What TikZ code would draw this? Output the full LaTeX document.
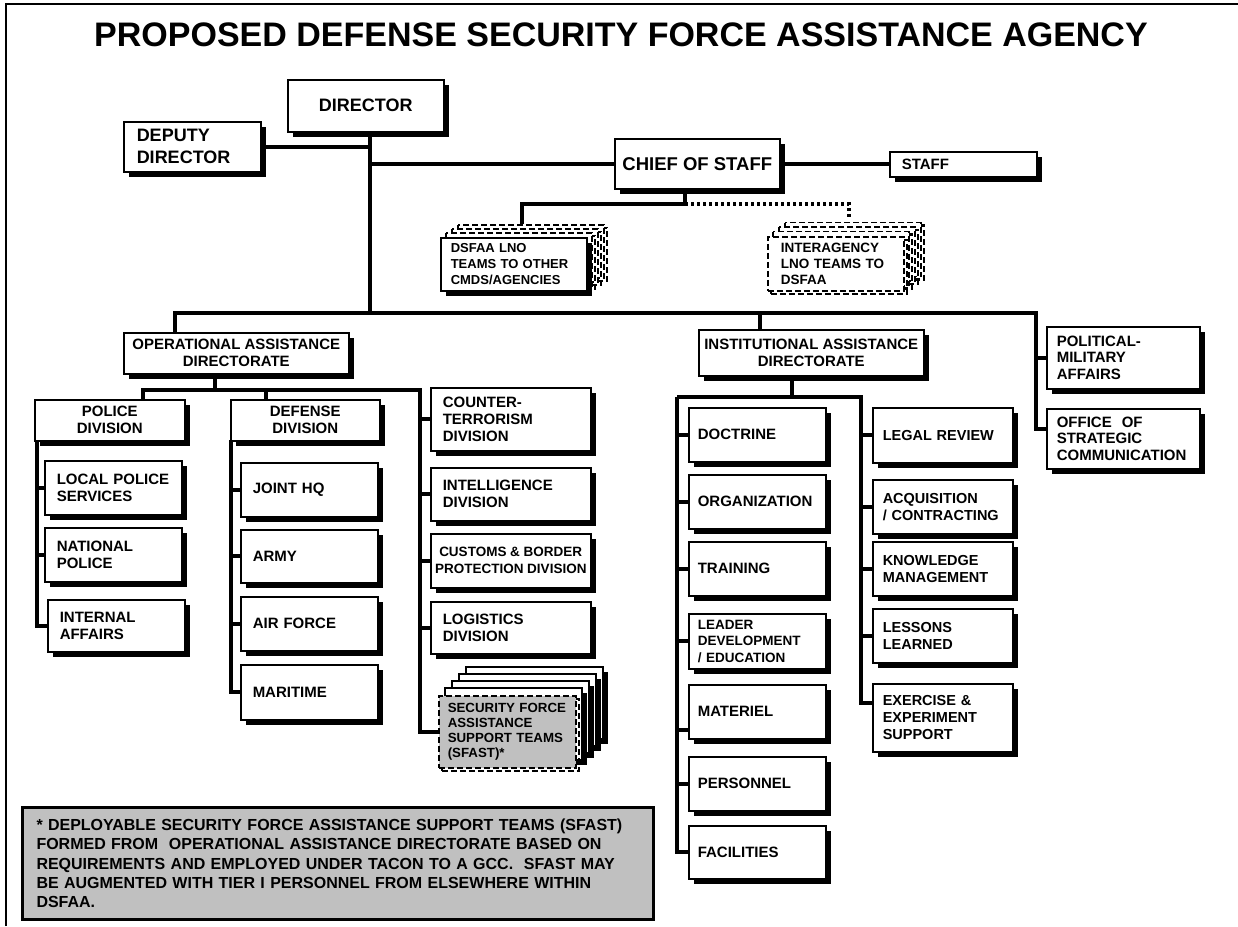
\documentclass[tikz,border=0pt]{standalone}
\usepackage{fontspec}
\setmainfont{Liberation Sans}
\usepackage{tikz}
\usetikzlibrary{calc,shadows}
\definecolor{panel}{RGB}{192,192,192}
\newcommand\boxfont[2]{\fontsize{#1}{#2}\selectfont\bfseries}
\tikzset{
  sheet/.style={draw, line width=1.5pt, fill=white, drop shadow={shadow xshift=5pt, shadow yshift=-5pt, opacity=1, fill=black}},
  ghost/.style={draw, line width=1.5pt, dash pattern=on 6pt off 3pt, fill=white, drop shadow={shadow xshift=3pt, shadow yshift=-3pt, opacity=1, fill=none, draw=black, line width=2.5pt, dash pattern=on 6pt off 3pt}},
  box/.style={inner ysep=0pt, anchor=north west},
  unit/.style={sheet, box},
  head/.style={unit, align=center, inner xsep=2pt},
  item/.style={unit, align=left, text width=#1},
  ghostitem/.style={ghost, box, align=left, text width=#1},
  opsitem/.style={item=113pt, inner xsep=12pt, font=\boxfont{15}{17.5}},
  divitem/.style={item=136pt, inner xsep=12pt, font=\boxfont{15}{17}},
  docitem/.style={item=119pt, inner xsep=9pt, font=\boxfont{15}{17}},
  supitem/.style={item=120pt, inner xsep=10pt, font=\boxfont{14.5}{17}},
  link/.style={line width=4pt},
  dots/.style={line width=3.5pt, dash pattern=on 3pt off 3pt}
}
\begin{document}
\begin{tikzpicture}[x=1pt, y=-1pt]
            \useasboundingbox (0,0) rectangle (1238,926);
            \draw[line width=1.5pt] (6,926) -- (6,4) -- (1238,4);
            \node (title) at (621,35) [font=\boxfont{34}{40}] {PROPOSED DEFENSE SECURITY FORCE ASSISTANCE AGENCY};

            \node (dir) at (287,79) [head, minimum width=156pt, minimum height=52pt, font=\boxfont{18}{21}] {DIRECTOR};
            \node (deputy) at (123,121) [item=111pt, inner xsep=13pt, minimum height=50pt, font=\boxfont{18}{22}] {DEPUTY\\DIRECTOR};
            \node (cos) at (614,138) [head, minimum width=165pt, minimum height=50pt, font=\boxfont{18.5}{22}] {CHIEF OF STAFF};
            \node (staff) at (889,151) [item=123pt, inner xsep=12pt, minimum height=25pt, font=\boxfont{15}{18}] {STAFF};

            \foreach \k in {3,2,1} \draw[ghost] (440+6*\k,237-4*\k) rectangle ++(146,53);
            \node (lnoout) at (440,237) [item=126pt, inner xsep=10pt, minimum height=53pt, font=\boxfont{13}{16}] {DSFAA LNO\\TEAMS TO OTHER\\CMDS/AGENCIES};
            \foreach \k in {3,2,1} \draw[ghost] (767+6*\k,236-4.5*\k) rectangle ++(136,54);
            \node (lnoin) at (767,236) [ghostitem=110pt, inner xsep=13pt, minimum height=54pt, font=\boxfont{13.5}{16}] {INTERAGENCY\\LNO TEAMS TO\\DSFAA};

            \node (oad) at (123,332) [head, minimum width=225pt, minimum height=41pt, font=\boxfont{15}{17}] {OPERATIONAL ASSISTANCE\\DIRECTORATE};
            \node (iad) at (698,329) [head, minimum width=225pt, minimum height=46pt, font=\boxfont{15}{17}] {INSTITUTIONAL ASSISTANCE\\DIRECTORATE};
            \node (polmil) at (1046,326) [item=133pt, inner xsep=10pt, minimum height=62pt, font=\boxfont{15}{16.5}] {POLITICAL-\\MILITARY\\AFFAIRS};
            \node (osc) at (1046,408) [item=133pt, inner xsep=10pt, minimum height=60pt, font=\boxfont{15}{16.5}] {OFFICE~~OF\\STRATEGIC\\COMMUNICATION};

            \node (police) at (34,399) [head, minimum width=150pt, minimum height=41pt, font=\boxfont{15}{17}] {POLICE\\DIVISION};
            \node (defense) at (230,399) [head, minimum width=149pt, minimum height=41pt, font=\boxfont{15}{17}] {DEFENSE\\DIVISION};
            \node (local) at (44,460) [opsitem, minimum height=54pt] {LOCAL POLICE\\SERVICES};
            \node (national) at (44,527) [opsitem, minimum height=54pt] {NATIONAL\\POLICE};
            \node (internal) at (47,599) [opsitem, minimum height=52pt] {INTERNAL\\AFFAIRS};
            \node (jointhq) at (240,462) [opsitem, minimum height=54pt] {JOINT HQ};
            \node (army) at (240,529) [opsitem, minimum height=53pt] {ARMY};
            \node (airforce) at (240,596) [opsitem, minimum height=54pt] {AIR FORCE};
            \node (maritime) at (240,664) [opsitem, minimum height=55pt] {MARITIME};

            \node (counter) at (430,387) [divitem, minimum height=63pt] {COUNTER-\\TERRORISM\\DIVISION};
            \node (intel) at (430,467) [divitem, minimum height=53pt] {INTELLIGENCE\\DIVISION};
            \node (customs) at (430,533) [head, minimum width=160pt, minimum height=54pt, font=\boxfont{13.5}{17}] {CUSTOMS \& BORDER\\PROTECTION DIVISION};
            \node (logistics) at (430,601) [divitem, minimum height=52pt] {LOGISTICS\\DIVISION};
            \foreach \k in {4,3,2,1} \draw[sheet] (438+7*\k,695-7*\k) rectangle ++(137,72);
            \node (sfast) at (438,695) [ghostitem=119pt, fill=panel, inner xsep=9pt, minimum height=72pt, font=\boxfont{13.3}{15}] {SECURITY FORCE\\ASSISTANCE\\SUPPORT TEAMS\\(SFAST)*};

            \node (doctrine) at (688,407) [docitem, minimum height=54pt] {DOCTRINE};
            \node (organization) at (688,474) [docitem, minimum height=54pt] {ORGANIZATION};
            \node (training) at (688,541) [docitem, minimum height=54pt] {TRAINING};
            \node (leader) at (688,613) [docitem, minimum height=55pt, font=\boxfont{13.5}{16.5}] {LEADER\\DEVELOPMENT\\/ EDUCATION};
            \node (materiel) at (688,684) [docitem, minimum height=54pt] {MATERIEL};
            \node (personnel) at (688,756) [docitem, minimum height=54pt] {PERSONNEL};
            \node (facilities) at (688,825) [docitem, minimum height=53pt] {FACILITIES};

            \node (legal) at (872,407) [supitem, minimum height=55pt] {LEGAL REVIEW};
            \node (acquisition) at (872,479) [supitem, minimum height=54pt] {ACQUISITION\\/ CONTRACTING};
            \node (knowledge) at (872,541) [supitem, minimum height=54pt] {KNOWLEDGE\\MANAGEMENT};
            \node (lessons) at (872,608) [supitem, minimum height=54pt] {LESSONS\\LEARNED};
            \node (exercise) at (872,683) [supitem, minimum height=68pt] {EXERCISE \&\\EXPERIMENT\\SUPPORT};

            \node (note) at (21,806) [box, draw, line width=3pt, fill=panel, align=left, text width=603pt, inner xsep=14pt, minimum height=112pt, font=\boxfont{16}{19.3}] {* DEPLOYABLE SECURITY FORCE ASSISTANCE SUPPORT TEAMS (SFAST)\\FORMED FROM~~OPERATIONAL ASSISTANCE DIRECTORATE BASED ON\\REQUIREMENTS AND EMPLOYED UNDER TACON TO A GCC.~~SFAST MAY\\BE AUGMENTED WITH TIER I PERSONNEL FROM ELSEWHERE WITHIN\\DSFAA.};

            \coordinate (trunk) at (370,313);
            \coordinate (barl) at (175,313);
            \coordinate (barr) at (1036,313);
            \coordinate (iadj) at (760,313);
            \coordinate (cosj) at (685,204);
            \coordinate (lnoj) at (522,204);
            \coordinate (lnotop) at (522,224);
            \coordinate (iatop) at (849,219);
            \coordinate (oadj) at (215,390);
            \coordinate (polj) at (143,390);
            \coordinate (defj) at (266,390);
            \coordinate (midj) at (420,390);
            \coordinate (polv) at (37,440);
            \coordinate (defv) at (231,440);
            \coordinate (iadb) at (792,397);
            \coordinate (iadl) at (677,397);
            \coordinate (iadr) at (861,397);

            \draw[link] (trunk |- dir.south) -- (trunk);
            \draw[link] (deputy.east) -- (deputy.east -| trunk);
            \draw[link] (cos.west) -- (cos.west -| trunk);
            \draw[link] (cos.east) -- (cos.east -| staff.west);
            \draw[link] (cosj |- cos.south) -- (cosj) -- (lnoj) -- (lnotop);
            \draw[dots] (cosj) -| (iatop);
            \draw[link] (barl |- oad.north) -- (barl) -- (barr) |- ([yshift=10pt]osc.west);
            \draw[link] (polmil.west) -- (polmil.west -| barr);
            \draw[link] (iadj) -- (iadj |- iad.north);

            \draw[link] (oadj |- oad.south) -- (oadj);
            \draw[link] (polj |- police.north) -- (polj) -- (midj) |- (sfast.west);
            \draw[link] (defj) -- (defj |- defense.north);
            \foreach \n in {counter,intel,customs,logistics} \draw[link] (\n.west) -- (\n.west -| midj);
            \draw[link] (polv) |- (internal.west);
            \foreach \n in {local,national} \draw[link] (\n.west) -- (\n.west -| polv);
            \draw[link] (defv) |- (maritime.west);
            \foreach \n in {jointhq,army,airforce} \draw[link] (\n.west) -- (\n.west -| defv);

            \draw[link] (iadb |- iad.south) -- (iadb);
            \draw[link] (iadl) -- (iadr) |- ([yshift=15pt]exercise.west);
            \draw[link] (iadl) |- (facilities.west);
            \foreach \n in {doctrine,organization,training,leader,personnel} \draw[link] (\n.west) -- (\n.west -| iadl);
            \draw[link] ([yshift=-18pt]materiel.west) -- ([yshift=-18pt]materiel.west -| iadl);
            \foreach \n in {legal,acquisition,knowledge,lessons} \draw[link] (\n.west) -- (\n.west -| iadr);
\end{tikzpicture}
\end{document}
